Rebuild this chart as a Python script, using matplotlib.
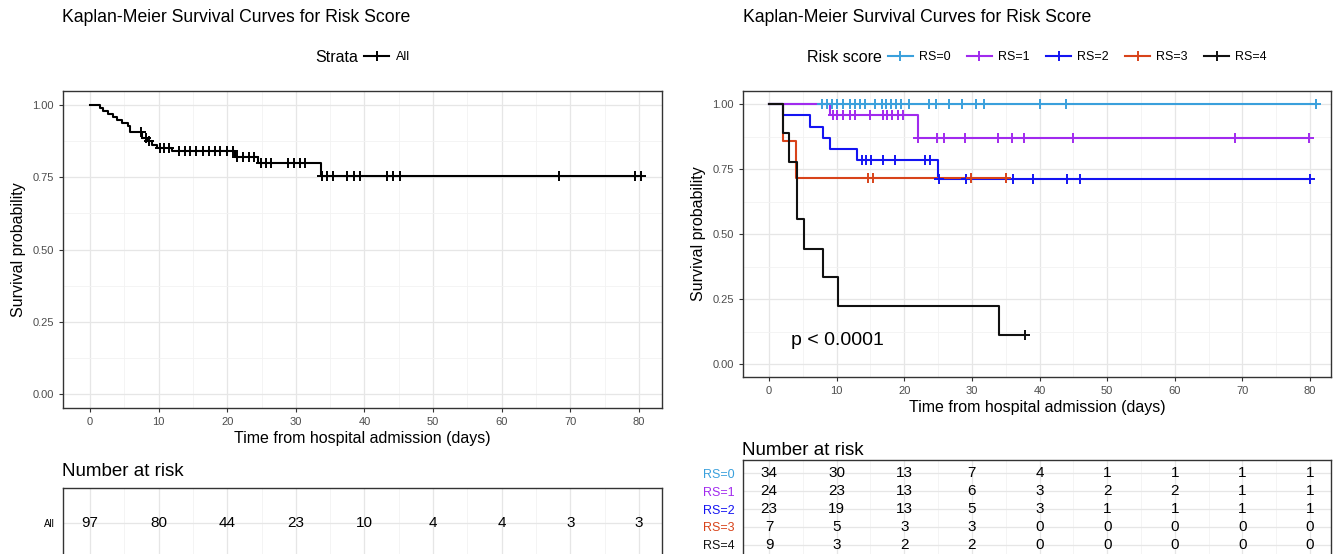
import matplotlib
matplotlib.use("Agg")
import matplotlib.pyplot as plt
from matplotlib.lines import Line2D
import numpy as np

plt.rcParams['font.family'] = ['Liberation Sans', 'DejaVu Sans']

# ---- data ----
# whole cohort (left panel)
all_times = [0, 1.5, 1.9, 2.6, 3.3, 4.0, 4.6, 5.5, 5.8, 7.6, 8.3, 9.0, 9.8, 12.0, 21.2, 24.5, 33.6]
all_surv = [1.0, 0.990, 0.979, 0.969, 0.959, 0.948, 0.938, 0.928, 0.907, 0.886, 0.875, 0.864,
            0.853, 0.841, 0.820, 0.800, 0.755]
all_censor = [7.4, 8.2, 8.6, 10.2, 10.8, 11.5, 12.9, 13.8, 14.6, 15.5, 16.4, 17.3, 18.2, 19.0,
              19.9, 20.8, 21.4, 22.3, 23.1, 23.9, 24.9, 25.6, 26.4, 28.8, 29.8, 30.6, 31.4,
              33.8, 34.5, 35.4, 37.4, 38.4, 39.4, 43.3, 44.2, 45.2, 68.3, 79.4, 80.3]

# risk score groups (right panel)
rs_names = ['RS=0', 'RS=1', 'RS=2', 'RS=3', 'RS=4']
rs_colors = ['#3AA0DC', '#A12AEE', '#1414F2', '#D8431A', '#111111']
rs_times = [
    [0],
    [0, 9.0, 22.0],
    [0, 2.0, 6.1, 8.0, 9.0, 13.0, 25.0],
    [0, 2.0, 4.0],
    [0, 2.0, 3.0, 4.1, 5.1, 8.0, 10.2, 34.0],
]
rs_surv = [
    [1.0],
    [1.0, 0.958, 0.871],
    [1.0, 0.957, 0.913, 0.870, 0.826, 0.783, 0.712],
    [1.0, 0.857, 0.714],
    [1.0, 0.889, 0.778, 0.556, 0.444, 0.333, 0.222, 0.111],
]
rs_censor = [
    [7.8, 8.5, 9.3, 10.1, 11.0, 11.9, 12.7, 13.5, 14.2, 15.7, 16.7, 17.3, 18.0, 18.8, 19.5,
     20.7, 23.7, 24.7, 26.6, 28.6, 30.6, 31.8, 40.0, 43.9, 80.9],
    [9.4, 10.1, 11.0, 11.9, 12.7, 14.9, 16.8, 17.5, 18.2, 19.0, 19.8, 22.1, 24.8, 25.9, 29.0,
     33.8, 36.0, 37.7, 44.9, 68.9, 79.9],
    [13.8, 14.4, 15.1, 16.9, 18.6, 23.1, 23.8, 25.1, 29.1, 36.1, 39.1, 44.0, 46.0, 80.0],
    [14.6, 15.4, 29.8, 35.0],
    [37.9],
]

# number at risk
risk_times = [0, 10, 20, 30, 40, 50, 60, 70, 80]
all_risk = [97, 80, 44, 23, 10, 4, 4, 3, 3]
rs_risk = [
    [34, 30, 13, 7, 4, 1, 1, 1, 1],
    [24, 23, 13, 6, 3, 2, 2, 1, 1],
    [23, 19, 13, 5, 3, 1, 1, 1, 1],
    [7, 5, 3, 3, 0, 0, 0, 0, 0],
    [9, 3, 2, 2, 0, 0, 0, 0, 0],
]

title = "Kaplan-Meier Survival Curves for Risk Score"
xlab = "Time from hospital admission (days)"

W, H = 1341, 554
fig = plt.figure(figsize=(W / 100, H / 100), dpi=100)


def box(l, t, r, b):
    return [l / W, 1 - b / H, (r - l) / W, (b - t) / H]


def km(ax, times, surv, censor, color):
    t = np.array(times, float)
    s = np.array(surv, float)
    end = max(t.max(), max(censor))
    ax.step(np.append(t, end), np.append(s, s[-1]), where='post', color=color, lw=1.5, zorder=3)
    idx = np.searchsorted(t, censor, side='right') - 1
    ax.plot(censor, s[idx], ls='none', marker='+', ms=6.5, mew=1.4, color=color, zorder=4)


def style_grid(ax, xlim):
    ax.set_xlim(*xlim)
    ax.set_xticks(range(0, 81, 10))
    ax.set_xticks(range(5, 81, 10), minor=True)
    ax.grid(which='major', color='#E6E6E6', lw=0.9)
    ax.grid(which='minor', color='#F2F2F2', lw=0.6)
    ax.set_axisbelow(True)
    ax.tick_params(which='minor', length=0)
    ax.tick_params(which='major', length=3, width=0.8, color='#333333',
                   labelsize=8, labelcolor='#4D4D4D')
    for sp in ax.spines.values():
        sp.set_color('#333333')
        sp.set_linewidth(1.0)


def style_km(ax, xlim):
    style_grid(ax, xlim)
    ax.set_ylim(-0.05, 1.05)
    ax.set_yticks([0, 0.25, 0.5, 0.75, 1.0])
    ax.set_yticks([0.125, 0.375, 0.625, 0.875], minor=True)
    ax.set_yticklabels(['0.00', '0.25', '0.50', '0.75', '1.00'])
    ax.set_xlabel(xlab, fontsize=11.5, labelpad=3)
    ax.set_ylabel("Survival probability", fontsize=11.5, labelpad=5)


def add_legend(ax, handles, labels, head, cx, cy):
    leg = ax.legend(handles, labels, loc='center left', bbox_to_anchor=(0, cy),
                    bbox_transform=fig.transFigure, ncol=len(labels), frameon=False,
                    fontsize=9, handlelength=2.0, handletextpad=0.5, columnspacing=1.3,
                    borderpad=0, borderaxespad=0)
    txt = fig.text(0, cy, head, ha='left', va='center', fontsize=11.5)
    fig.canvas.draw()
    r = fig.canvas.get_renderer()
    wl = leg.get_window_extent(r).width / W
    wt = txt.get_window_extent(r).width / W
    gap = 6 / W
    left = cx - (wt + gap + wl) / 2
    txt.set_x(left)
    leg.set_bbox_to_anchor((left + wt + gap, cy), transform=fig.transFigure)


def risk_table(tab, rows, labels, colors, xlim, ylim, label_size):
    style_grid(tab, xlim)
    tab.set_ylim(*ylim)
    tab.set_xticklabels([])
    tab.tick_params(axis='x', length=0)
    tab.set_yticks(range(len(rows)))
    tab.set_yticklabels(labels, fontsize=label_size)
    tab.tick_params(axis='y', length=0, pad=6)
    for lab, c in zip(tab.get_yticklabels(), colors):
        lab.set_color(c)
    for i, row in enumerate(rows):
        for t, v in zip(risk_times, row):
            tab.text(t, i, str(v), ha='center', va='center', fontsize=11, color='black')


# ---- left: all patients ----
ax1 = fig.add_axes(box(63, 91, 662, 408))
km(ax1, all_times, all_surv, all_censor, 'black')
style_km(ax1, (-3.93, 83.35))
fig.text(62 / W, 1 - 18 / H, title, fontsize=12.7, va='center', ha='left')

tab1 = fig.add_axes(box(63, 488, 662, 558))
risk_table(tab1, [all_risk], ['All'], ['black'], (-3.93, 83.35), (1, -1), 7)
tab1.text(-0.002, 1.12, "Number at risk", transform=tab1.transAxes, fontsize=13.5,
          va='bottom', ha='left')

# ---- right: by risk score ----
ax2 = fig.add_axes(box(743, 91, 1331, 377))
for t, s, c, col in zip(rs_times, rs_surv, rs_censor, rs_colors):
    km(ax2, t, s, c, col)
style_km(ax2, (-3.85, 83.1))
ax2.text(3.2, 0.09, "p < 0.0001", fontsize=14, va='center', ha='left')
fig.text(743 / W, 1 - 18 / H, title, fontsize=12.7, va='center', ha='left')

tab2 = fig.add_axes(box(743, 460, 1331, 558))
risk_table(tab2, rs_risk, rs_names, rs_colors, (-3.85, 83.1), (4.735, -0.735), 9)
tab2.text(-0.002, 1.015, "Number at risk", transform=tab2.transAxes, fontsize=13.5,
          va='bottom', ha='left')

h1 = [Line2D([], [], color='black', marker='+', lw=1.5, ms=7, mew=1.4)]
add_legend(ax1, h1, ['All'], 'Strata', (63 + 662) / 2 / W, 1 - 57 / H)
h2 = [Line2D([], [], color=c, marker='+', lw=1.5, ms=7, mew=1.4) for c in rs_colors]
add_legend(ax2, h2, rs_names, 'Risk score', (743 + 1331) / 2 / W, 1 - 57 / H)

fig.savefig("out.png", dpi=100)
